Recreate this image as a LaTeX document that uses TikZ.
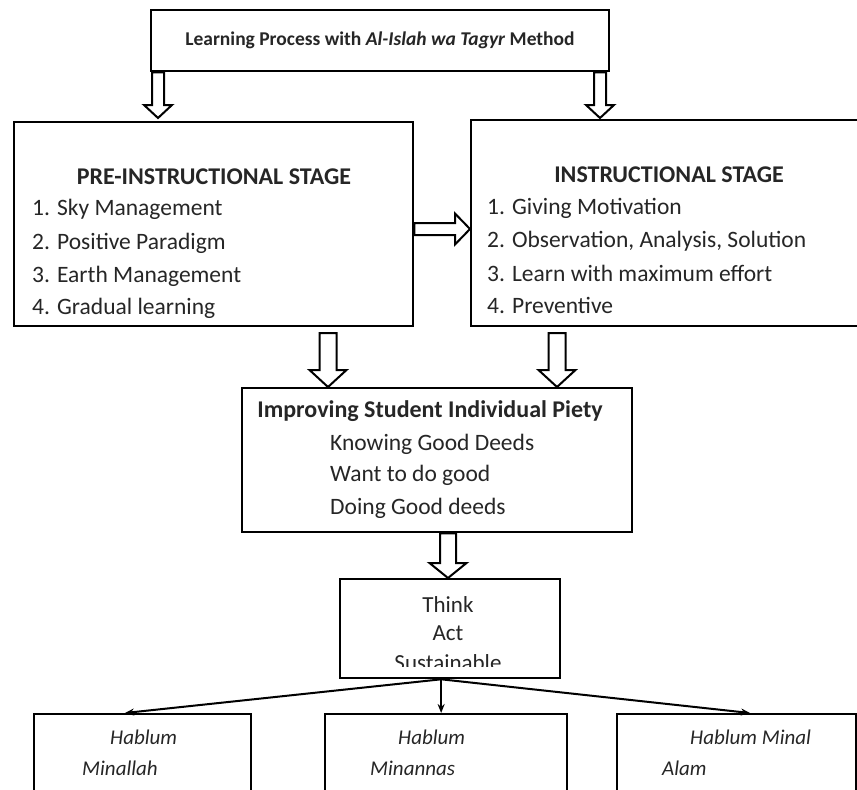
\documentclass[tikz,border=0pt]{standalone}
\usepackage{fontspec}
\setmainfont{Carlito}
\usetikzlibrary{calc,arrows.meta}
\tikzset{
  box/.style={draw, line width=2.3pt, anchor=north west, inner sep=0pt},
  blockarrow/.style={draw, line width=2pt, fill=white, line join=miter},
  itemtext/.style={anchor=west, inner sep=0pt, font=\fontsize{23.5}{23.5}\selectfont, text=black!85},
  headtext/.style={inner sep=0pt, font=\bfseries\fontsize{24}{24}\selectfont, text=black!85},
  thinktext/.style={inner sep=0pt, font=\fontsize{23}{23}\selectfont, text=black!85},
  hablum/.style={anchor=west, inner sep=0pt, font=\itshape\fontsize{21}{21}\selectfont, text=black!85},
  thinline/.style={line width=2pt, -{Stealth[length=9pt,width=7pt]}},
}
\newcommand\downblk[5]{%
  \draw[blockarrow] let \p1=#1, \p2=#2 in
   (\x1-#3,\y1) -- (\x1-#3,\y2+#5) -- (\x1-#4,\y2+#5) -- (\x1,\y2)
   -- (\x1+#4,\y2+#5) -- (\x1+#3,\y2+#5) -- (\x1+#3,\y1) -- cycle;}
\newcommand\rightblk[5]{%
  \draw[blockarrow] let \p1=#1, \p2=#2 in
   (\x1,\y1-#3) -- (\x2-#5,\y1-#3) -- (\x2-#5,\y1-#4) -- (\x2,\y1)
   -- (\x2-#5,\y1+#4) -- (\x2-#5,\y1+#3) -- (\x1,\y1+#3) -- cycle;}
\begin{document}
\begin{tikzpicture}[x=1pt,y=-1pt]
\useasboundingbox (0,0) rectangle (857,790);
\clip (0,0) rectangle (857,790);
\fill[white] (0,0) rectangle (857,790);

% boxes
\node[box, minimum width=458pt, minimum height=61pt] (top) at (150,9) {};
\node[box, minimum width=399pt, minimum height=204pt] (pre) at (13,121) {};
\node[box, minimum width=400pt, minimum height=206pt] (ins) at (470,119) {};
\node[box, minimum width=390pt, minimum height=144pt] (imp) at (241,387) {};
\node[box, minimum width=220pt, minimum height=99pt] (think) at (339,578) {};
\node[box, minimum width=217pt, minimum height=90pt] (hb1) at (33,713) {};
\node[box, minimum width=242pt, minimum height=90pt] (hb2) at (324,713) {};
\node[box, minimum width=239pt, minimum height=90pt] (hb3) at (616,713) {};

% texts
\node[headtext, font=\bfseries\fontsize{19.5}{19.5}\selectfont] (ttl) at (380,40)
  {Learning Process with \textit{Al-Islah wa Tagyr} Method};
\node[headtext] (preh) at (214,177) {PRE-INSTRUCTIONAL STAGE};
\node[itemtext] (p1) at (32,209) {1. Sky Management};
\node[itemtext] (p2) at (32,243) {2. Positive Paradigm};
\node[itemtext] (p3) at (32,276) {3. Earth Management};
\node[itemtext] (p4) at (32,308) {4. Gradual learning};
\node[headtext] (insh) at (669,175) {INSTRUCTIONAL STAGE};
\node[itemtext] (i1) at (487,208) {1. Giving Motivation};
\node[itemtext] (i2) at (487,241) {2. Observation, Analysis, Solution};
\node[itemtext] (i3) at (487,273) {3. Learn with maximum effort};
\node[itemtext] (i4) at (487,305) {4. Preventive};
\node[headtext] (imph) at (430,411) {Improving Student Individual Piety};
\node[itemtext] (m1) at (330,444) {Knowing Good Deeds};
\node[itemtext] (m2) at (330,475) {Want to do good};
\node[itemtext] (m3) at (330,508) {Doing Good deeds};
\node[thinktext] (t1) at (448,605) {Think};
\node[thinktext] (t2) at (448,633) {Act};
\begin{scope}
\clip (340,640) rectangle (558,666);
\node[thinktext] (t3) at (448,663) {Sustainable};
\end{scope}
\node[hablum] (h1a) at (110,737) {Hablum};
\node[hablum] (h1b) at (82,768) {Minallah};
\node[hablum] (h2a) at (398,737) {Hablum};
\node[hablum] (h2b) at (370,768) {Minannas};
\node[hablum] (h3a) at (690,737) {Hablum Minal};
\node[hablum] (h3b) at (662,768) {Alam};

% block arrows
\downblk{(158,0 |- top.south)}{(158,118)}{6pt}{14pt}{13pt}
\downblk{(600,0 |- top.south)}{(600,118)}{6pt}{14pt}{13pt}
\rightblk{(pre.east |- 0,229)}{(ins.west |- 0,229)}{6pt}{15.5pt}{15pt}
\coordinate (la) at (328,333);
\coordinate (ra) at (557,333);
\downblk{(la)}{(la |- imp.north)}{8.5pt}{18.5pt}{17pt}
\downblk{(ra)}{(ra |- imp.north)}{8.5pt}{18.5pt}{17pt}
\downblk{(448,0 |- imp.south)}{(448,0 |- think.north)}{8pt}{18.5pt}{15pt}

% thin connectors
\coordinate (ts) at ([xshift=-9pt]think.south);
\draw[thinline] (ts) -- (125,0 |- hb1.north);
\draw[thinline] (ts) -- (ts |- hb2.north);
\draw[thinline] (ts) -- (750,0 |- hb3.north);
\end{tikzpicture}
\end{document}
